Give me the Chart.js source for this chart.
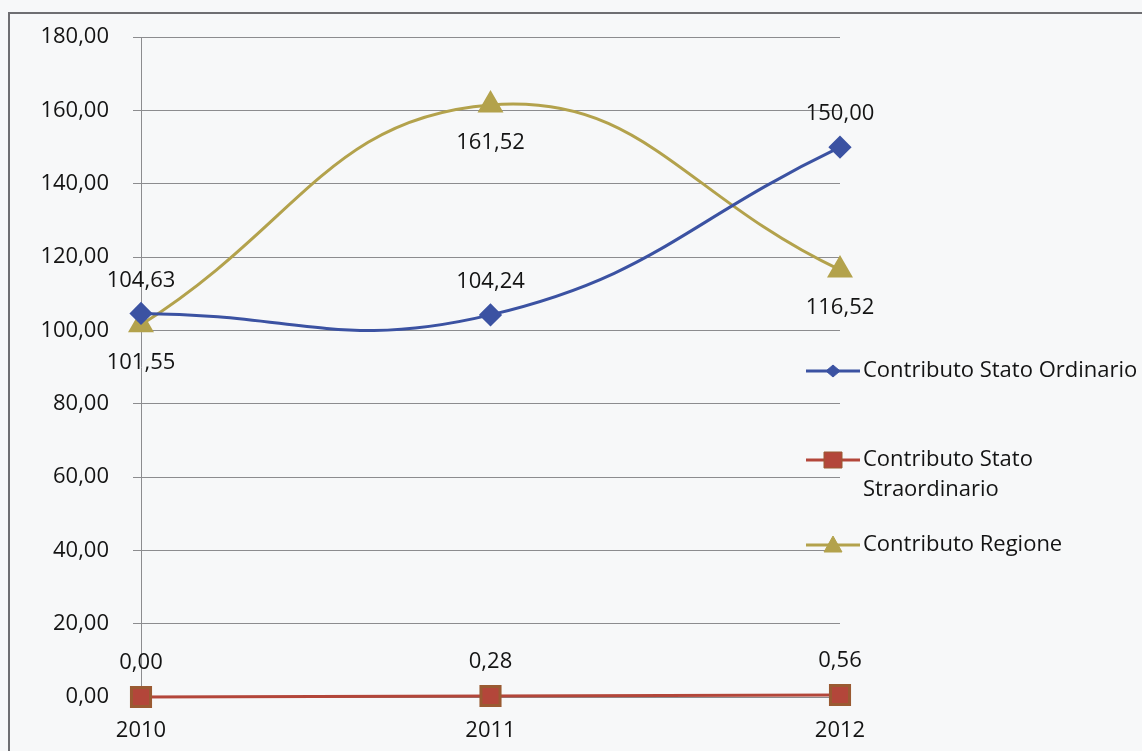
<!DOCTYPE html>
<html>
<head>
<meta charset="utf-8">
<script src="https://cdn.jsdelivr.net/npm/chart.js@4.4.1/dist/chart.umd.min.js"></script>
<style>
  html, body { margin: 0; padding: 0; background: #f7f8f9; }
  #wrap { width: 1142px; height: 751px; position: relative; }
</style>
</head>
<body>
<div id="wrap"><canvas id="c" width="1142" height="751"></canvas></div>
<script>
const years = ['2010', '2011', '2012'];
const statoOrdinario = [104.63, 104.24, 150.00];
const statoStraordinario = [0.00, 0.28, 0.56];
const regione = [101.55, 161.52, 116.52];
const seriesNames = ['Contributo Stato Ordinario', ['Contributo Stato', 'Straordinario'], 'Contributo Regione'];
const yMin = 0, yMax = 180, yStep = 20;

const FONT = '"Open Sans", sans-serif';
const FSIZE = 22;
const TXT = '#141414';
const fmt = v => v.toFixed(2).replace('.', ',');

const BLUE = '#3b52a2';
const RED = '#b3463a';
const GOLD = '#b3a24c';
const GRID = '#8c8c8f';

const labelPlugin = {
  id: 'dataLabels',
  afterDatasetsDraw(chart) {
    const ctx = chart.ctx;
    ctx.save();
    ctx.font = FSIZE + 'px ' + FONT;
    ctx.fillStyle = TXT;
    ctx.textAlign = 'center';
    ctx.textBaseline = 'middle';
    chart.data.datasets.forEach((ds, i) => {
      const meta = chart.getDatasetMeta(i);
      meta.data.forEach((pt, j) => {
        ctx.fillText(fmt(ds.data[j]), pt.x, pt.y + ds.labelOffset);
      });
    });
    ctx.restore();
  }
};

const legendPlugin = {
  id: 'sideLegend',
  afterDraw(chart) {
    const ctx = chart.ctx;
    const x0 = 806, x1 = 860, tx = 863;
    const rows = [371, 460, 545];
    ctx.save();
    chart.data.datasets.forEach((ds, i) => {
      const y = rows[i];
      const cx = (x0 + x1) / 2;
      ctx.strokeStyle = ds.borderColor;
      ctx.lineWidth = 3;
      ctx.beginPath(); ctx.moveTo(x0, y); ctx.lineTo(x1, y); ctx.stroke();
      ctx.fillStyle = ds.pointBackgroundColor;
      ctx.strokeStyle = ds.pointBorderColor;
      ctx.lineWidth = 1;
      ctx.beginPath();
      if (ds.pointStyle === 'rectRot') {
        ctx.moveTo(cx, y - 6); ctx.lineTo(cx + 7, y); ctx.lineTo(cx, y + 6); ctx.lineTo(cx - 7, y); ctx.closePath();
      } else if (ds.pointStyle === 'rect') {
        ctx.rect(cx - 9, y - 8, 18, 16);
      } else {
        ctx.moveTo(cx, y - 9); ctx.lineTo(cx + 9, y + 7); ctx.lineTo(cx - 9, y + 7); ctx.closePath();
      }
      ctx.fill(); ctx.stroke();
      ctx.fillStyle = TXT;
      ctx.font = FSIZE + 'px ' + FONT;
      ctx.textAlign = 'left';
      ctx.textBaseline = 'middle';
      const name = seriesNames[i];
      if (Array.isArray(name)) {
        name.forEach((t, k) => ctx.fillText(t, tx, y + k * 30));
      } else {
        ctx.fillText(name, tx, y);
      }
    });
    ctx.restore();
  }
};

const framePlugin = {
  id: 'frame',
  beforeDraw(chart) {
    const ctx = chart.ctx;
    ctx.save();
    ctx.fillStyle = '#f7f8f9';
    ctx.fillRect(0, 0, chart.width, chart.height);
    ctx.strokeStyle = '#6e6e72';
    ctx.lineWidth = 2;
    ctx.strokeRect(9, 13, chart.width + 20, chart.height + 20);
    ctx.restore();
  }
};

new Chart(document.getElementById('c'), {
  type: 'line',
  data: {
    labels: years,
    datasets: [
      {
        label: 'Contributo Stato Ordinario',
        data: statoOrdinario,
        borderColor: BLUE, backgroundColor: BLUE,
        pointBackgroundColor: BLUE, pointBorderColor: BLUE,
        pointStyle: 'rectRot', pointRadius: 9.5, borderWidth: 3,
        tension: 0.45, labelOffset: -33, clip: false
      },
      {
        label: 'Contributo Stato Straordinario',
        data: statoStraordinario,
        borderColor: RED, backgroundColor: RED,
        pointBackgroundColor: RED, pointBorderColor: '#9a5a32',
        pointStyle: 'rect', pointRadius: 13.5, borderWidth: 3,
        tension: 0.45, labelOffset: -34, clip: false
      },
      {
        label: 'Contributo Regione',
        data: regione,
        borderColor: GOLD, backgroundColor: GOLD,
        pointBackgroundColor: GOLD, pointBorderColor: GOLD,
        pointStyle: 'triangle', pointRadius: 12, borderWidth: 3,
        tension: 0.45, labelOffset: 38, clip: false
      }
    ]
  },
  options: {
    responsive: false,
    animation: false,
    devicePixelRatio: 1,
    layout: { padding: { top: 34, right: 302, left: 0, bottom: 0 } },
    plugins: { legend: { display: false }, tooltip: { enabled: false } },
    scales: {
      x: {
        offset: false,
        grid: { display: false },
        border: { display: true, color: GRID, width: 1 },
        ticks: { color: TXT, font: { family: FONT, size: FSIZE }, padding: 13, maxRotation: 0 },
        afterFit(s) { s.height = 751 - 697; }
      },
      y: {
        min: yMin, max: yMax,
        grid: { color: GRID, lineWidth: 1, tickLength: 8, drawTicks: true },
        border: { display: true, color: GRID, width: 1 },
        ticks: {
          stepSize: yStep,
          color: TXT,
          font: { family: FONT, size: FSIZE },
          padding: 24,
          callback: v => fmt(v)
        },
        afterFit(s) { s.width = 141; }
      }
    }
  },
  plugins: [framePlugin, labelPlugin, legendPlugin]
});
</script>
</body>
</html>
